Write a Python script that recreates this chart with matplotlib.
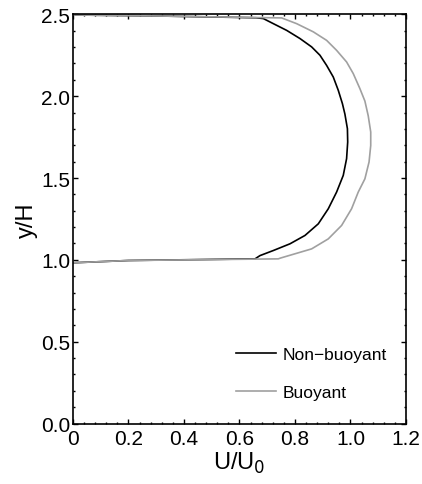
import matplotlib
matplotlib.use("Agg")
import matplotlib.pyplot as plt
from matplotlib.ticker import MultipleLocator, FixedLocator

plt.rcParams["font.family"] = ["Liberation Sans", "DejaVu Sans"]

# velocity profiles U/U0 against height y/H
nb_u = [0.0, 0.2, 0.656, 0.674, 0.722, 0.782, 0.836, 0.884, 0.920, 0.950,
        0.974, 0.986, 0.990, 0.989, 0.980, 0.971, 0.956, 0.938, 0.914, 0.890,
        0.860, 0.818, 0.770, 0.722, 0.686, 0.66, 0.3, 0.0]
nb_y = [0.982, 0.996, 1.006, 1.026, 1.057, 1.098, 1.149, 1.220, 1.312, 1.414,
        1.516, 1.618, 1.720, 1.801, 1.890, 1.954, 2.036, 2.117, 2.188, 2.250,
        2.301, 2.352, 2.402, 2.443, 2.474, 2.479, 2.490, 2.496]

b_u = [0.0, 0.2, 0.740, 0.746, 0.800, 0.860, 0.920, 0.968, 1.004, 1.028,
       1.052, 1.067, 1.073, 1.073, 1.064, 1.052, 1.034, 1.010, 0.986, 0.950,
       0.914, 0.866, 0.806, 0.752, 0.3, 0.0]
b_y = [0.982, 0.996, 1.006, 1.010, 1.037, 1.067, 1.128, 1.210, 1.312, 1.414,
       1.495, 1.598, 1.699, 1.781, 1.880, 1.970, 2.046, 2.138, 2.209, 2.280,
       2.341, 2.393, 2.443, 2.478, 2.490, 2.496]

fig = plt.figure(figsize=(4.22, 4.85), dpi=100)
ax = fig.add_axes([0.173, 0.1247, 0.789, 0.8437])

ax.plot(nb_u, nb_y, color="black", lw=1.2, label="Non\u2212buoyant")
ax.plot(b_u, b_y, color="#a0a0a0", lw=1.2, label="Buoyant")

ax.set_xlim(0, 1.2)
ax.set_ylim(0, 2.5)
xt = [0, 0.2, 0.4, 0.6, 0.8, 1.0, 1.2]
ax.xaxis.set_major_locator(FixedLocator(xt))
ax.set_xticklabels(["0", "0.2", "0.4", "0.6", "0.8", "1.0", "1.2"])
ax.xaxis.set_minor_locator(MultipleLocator(0.04))
ax.yaxis.set_major_locator(MultipleLocator(0.5))
ax.yaxis.set_minor_locator(MultipleLocator(0.1))
ax.tick_params(which="both", direction="in", top=True, right=True,
               labelsize=15, width=1)
ax.tick_params(which="major", length=3.5, pad=2)
ax.tick_params(axis="x", which="major", pad=4)
ax.tick_params(which="minor", length=1.5)
for s in ax.spines.values():
    s.set_linewidth(1.2)

ax.set_xlabel("U/U$_0$", fontsize=17, labelpad=1)
ax.set_ylabel("y/H", fontsize=17, labelpad=2)

ax.legend(loc="lower right", bbox_to_anchor=(0.99, 0.02), frameon=False,
          fontsize=12.5, handlelength=2.3, handletextpad=0.4,
          labelspacing=1.3)

fig.savefig("out.png", dpi=100)
